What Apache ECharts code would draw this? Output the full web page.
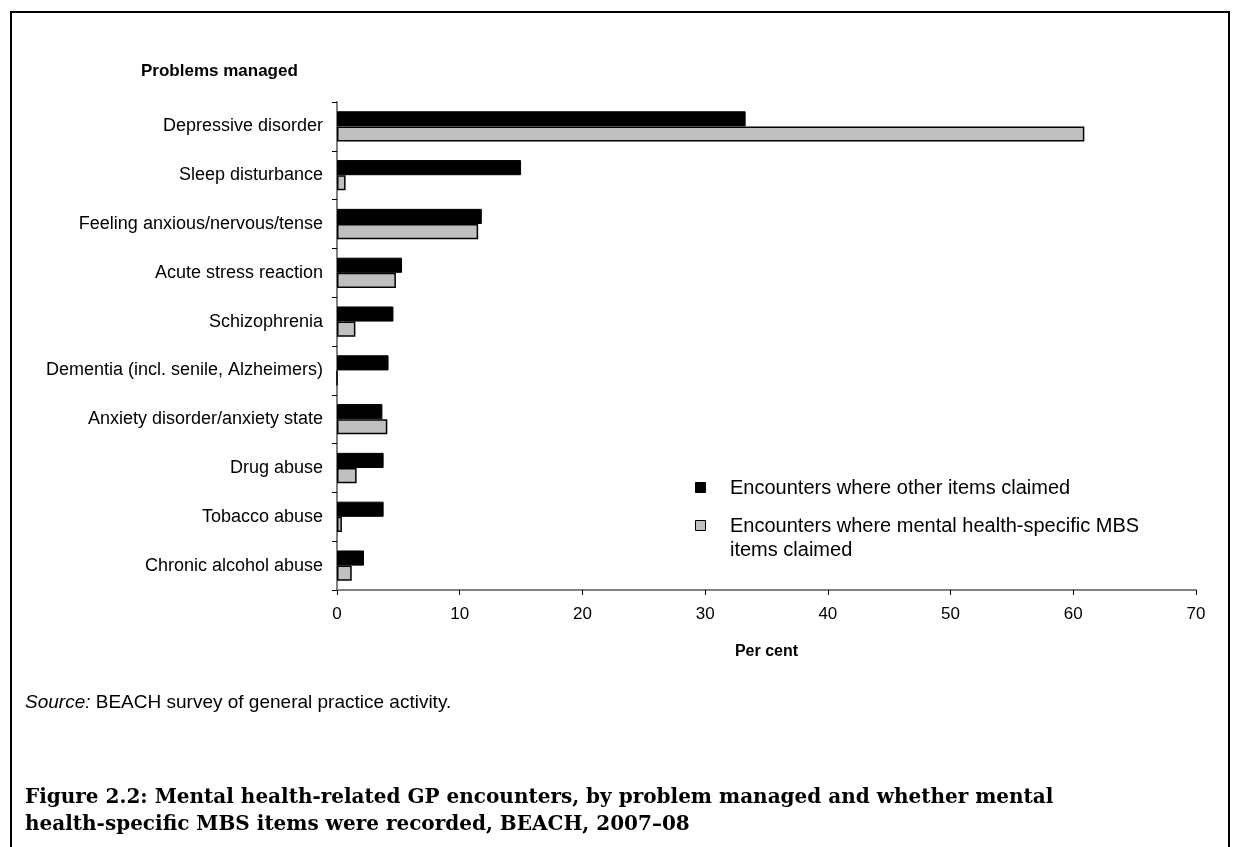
<!DOCTYPE html>
<html>
<head>
<meta charset="utf-8">
<script src="https://cdn.jsdelivr.net/npm/echarts@6/dist/echarts.min.js"></script>
<style>
  html, body { margin: 0; padding: 0; background: #fff; }
  #chart { width: 1236px; height: 847px; }
</style>
</head>
<body>
<div id="chart"></div>
<script>
// Problems managed, top to bottom
const categories = [
  'Depressive disorder',
  'Sleep disturbance',
  'Feeling anxious/nervous/tense',
  'Acute stress reaction',
  'Schizophrenia',
  'Dementia (incl. senile, Alzheimers)',
  'Anxiety disorder/anxiety state',
  'Drug abuse',
  'Tobacco abuse',
  'Chronic alcohol abuse'
];

// Per cent of encounters
const otherItems = [33.3, 15.0, 11.8, 5.3, 4.6, 4.2, 3.7, 3.8, 3.8, 2.2];
const mhItems    = [60.9, 0.7, 11.5, 4.8, 1.5, 0, 4.1, 1.6, 0.4, 1.2];

const seriesNames = [
  'Encounters where other items claimed',
  'Encounters where mental health-specific MBS\nitems claimed'
];
const xTicks = [0, 10, 20, 30, 40, 50, 60, 70];

const chart = echarts.init(document.getElementById('chart'), null, { renderer: 'canvas' });

const baseFont = 'Liberation Sans, Arial, sans-serif';
const seriesFills = ['#000000', '#c0c0c0'];

// legend drawn as swatch + text pairs
const legendRows = [488, 526];
const legendGraphics = [];
seriesNames.forEach((name, i) => {
  const y = legendRows[i];
  legendGraphics.push({
    type: 'rect',
    left: 695, top: y - 6,
    shape: { width: 10, height: 10 },
    style: { fill: seriesFills[i], stroke: '#000', lineWidth: 1 }
  });
  legendGraphics.push({
    type: 'text',
    left: 730, top: y - 12,
    style: {
      text: name,
      font: '20px ' + baseFont,
      fill: '#000',
      lineHeight: 24
    }
  });
});

const option = {
  backgroundColor: '#fff',
  animation: false,
  grid: { left: 337, right: 40, top: 102, bottom: 257, containLabel: false },
  xAxis: {
    type: 'value',
    min: 0, max: 70, interval: 10,
    axisLine: { show: true, lineStyle: { color: '#808080', width: 2 } },
    axisTick: { show: true, length: 5, lineStyle: { color: '#000' } },
    splitLine: { show: false },
    name: 'Per cent',
    nameLocation: 'middle',
    nameGap: 54,
    nameTextStyle: {
      color: '#000',
      fontFamily: baseFont,
      fontWeight: 'bold',
      fontSize: 16
    },
    axisLabel: {
      margin: 16,
      color: '#000',
      fontFamily: baseFont,
      fontSize: 17,
      formatter: v => xTicks.includes(v) ? String(v) : ''
    }
  },
  yAxis: {
    type: 'category',
    data: categories,
    inverse: true,
    axisLine: { show: true, lineStyle: { color: '#808080', width: 2 } },
    axisTick: { show: true, length: 5, lineStyle: { color: '#000' } },
    axisLabel: {
      margin: 14,
      color: '#000',
      fontFamily: baseFont,
      fontSize: 18
    }
  },
  series: [
    {
      name: seriesNames[0],
      type: 'bar',
      data: otherItems,
      barGap: '0%',
      barCategoryGap: '38%',
      itemStyle: { color: seriesFills[0], borderColor: '#000', borderWidth: 1 }
    },
    {
      name: seriesNames[1],
      type: 'bar',
      data: mhItems,
      barGap: '0%',
      barCategoryGap: '38%',
      itemStyle: { color: seriesFills[1], borderColor: '#000', borderWidth: 1.5 }
    }
  ],
  graphic: [
    {
      type: 'rect',
      shape: { x: 11, y: 12, width: 1218, height: 900 },
      style: { fill: 'none', stroke: '#000', lineWidth: 2 },
      silent: true
    },
    {
      type: 'text',
      left: 141, top: 63,
      style: { text: 'Problems managed', font: 'bold 17px ' + baseFont, fill: '#000' }
    },
    {
      type: 'text',
      left: 25, top: 693,
      style: {
        text: '{i|Source:} BEACH survey of general practice activity.',
        font: '19px ' + baseFont,
        fill: '#000',
        rich: { i: { fontStyle: 'italic', fontSize: 19, fontFamily: baseFont } }
      }
    },
    {
      type: 'text',
      left: 25, top: 784,
      style: {
        text: 'Figure 2.2: Mental health-related GP encounters, by problem managed and whether mental\nhealth-specific MBS items were recorded, BEACH, 2007\u201308',
        font: 'bold 20px DejaVu Serif, serif',
        fill: '#000',
        lineHeight: 27
      }
    }
  ].concat(legendGraphics)
};

chart.setOption(option);
</script>
</body>
</html>
